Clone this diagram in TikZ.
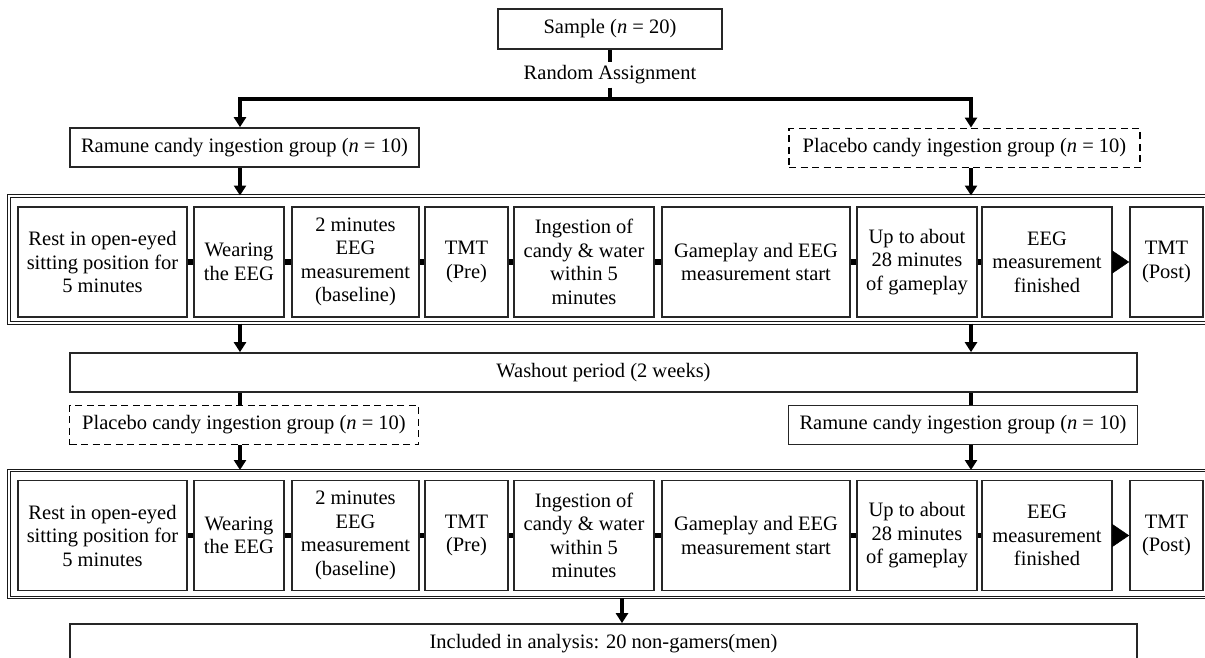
\documentclass[tikz,border=0pt]{standalone}
\usepackage{fontspec}
\setmainfont{Liberation Serif}
\usetikzlibrary{arrows.meta}
\begin{document}
\begin{tikzpicture}[x=1pt,y=-1pt,
  txt/.style={font=\fontsize{20.5}{23.5}\selectfont, align=center, inner sep=0pt},
  mybox/.style={txt, draw=black!85, line width=1.7pt, fill=white},
  grpbox/.style={mybox, minimum width=349pt, minimum height=39pt},
  dgrpbox/.style={grpbox, draw=black, line width=1.9pt, dash pattern=on 7pt off 4.5pt},
  procbox/.style={mybox, minimum height=110pt},
  outerframe/.style={draw=black!90, line width=1pt, double=white, double distance=1.4pt, minimum height=127pt, minimum width=1203pt, inner sep=0pt},
  widebox/.style={mybox, minimum width=1067pt, minimum height=39pt},
  thickline/.style={line width=3.2pt, black},
  arrline/.style={thickline, -{Triangle[width=12pt,length=10pt]}},
  linkline/.style={line width=5.5pt, black},
  bigarrow/.style={line width=0.5pt, black, -{Triangle[width=23pt,length=17pt]}},
]
\useasboundingbox (0,0) rectangle (1205,657);
\coordinate (jl) at (240,99);
\coordinate (jr) at (971,99);
\coordinate (j) at (610,99);
\coordinate (jf) at (622,610);

\node[mybox, minimum width=224pt, minimum height=40pt] (sample) at (610,29) {Sample (\textit{n} = 20)};
\node[txt, fill=white, inner sep=3pt] (ra) at (610,75) {Random Assignment};
\node[grpbox] (ram1) at (244.5,147.5) {Ramune candy ingestion group (\textit{n} = 10)};
\node[dgrpbox, minimum width=351pt] (pla1) at (964.5,148) {Placebo candy ingestion group (\textit{n} = 10)};
\node[outerframe] (fr1) at (610.5,259.5) {};
\node[widebox] (wash) at (603.5,372.5) {Washout period (2 weeks)};
\node[dgrpbox] (pla2) at (244,425) {Placebo candy ingestion group (\textit{n} = 10)};
\node[grpbox] (ram2) at (963,425) {Ramune candy ingestion group (\textit{n} = 10)};
\node[outerframe] (fr2) at (610.5,534) {};
\node[widebox, minimum height=40pt] (final) at (603.5,644) {Included in analysis: 20 non-gamers(men)};

\foreach \r/\yc in {a/262,b/535.5} {
  \node[procbox, minimum width=169pt] (\r1) at (102.5,\yc) {Rest in open-eyed\\sitting position for\\5 minutes};
  \node[procbox, minimum width=90pt] (\r2) at (239,\yc) {Wearing\\the EEG};
  \node[procbox, minimum width=127pt] (\r3) at (355.5,\yc) {2 minutes\\EEG\\measurement\\(baseline)};
  \node[procbox, minimum width=83pt] (\r4) at (466.5,\yc) {TMT\\(Pre)};
  \node[procbox, minimum width=140pt] (\r5) at (584,\yc) {Ingestion of\\candy \& water\\within 5\\minutes};
  \node[procbox, minimum width=188pt] (\r6) at (756,\yc) {Gameplay and EEG\\measurement start};
  \node[procbox, minimum width=120pt] (\r7) at (917,\yc) {Up to about\\28 minutes\\of gameplay};
  \node[procbox, minimum width=130pt] (\r8) at (1047,\yc) {EEG\\measurement\\finished};
  \node[procbox, minimum width=73pt] (\r9) at (1166.5,\yc) {TMT\\(Post)};
  \foreach \i/\k in {1/2,2/3,3/4,4/5,5/6,6/7,7/8}
    \draw[linkline] (\r\i.east) -- (\r\k.west);
  \draw[bigarrow] (\r8.east) -- (\r9.west);
}

\draw[thickline] (sample.south) -- (ra.north);
\draw[thickline] (ra.south) -- (j);
\draw[arrline, line join=miter] (j) -| (ram1.north -| jl);
\draw[arrline, line join=miter] (j) -| (pla1.north -| jr);
\draw[arrline] (ram1.south -| jl) -- (fr1.north -| jl);
\draw[arrline] (pla1.south -| jr) -- (fr1.north -| jr);
\draw[arrline] (fr1.south -| jl) -- (wash.north -| jl);
\draw[arrline] (fr1.south -| jr) -- (wash.north -| jr);
\draw[thickline] (wash.south -| jl) -- (pla2.north -| jl);
\draw[thickline] (wash.south -| jr) -- (ram2.north -| jr);
\draw[arrline] (pla2.south -| jl) -- (fr2.north -| jl);
\draw[arrline] (ram2.south -| jr) -- (fr2.north -| jr);
\draw[arrline] (fr2.south -| jf) -- (final.north -| jf);
\end{tikzpicture}
\end{document}
